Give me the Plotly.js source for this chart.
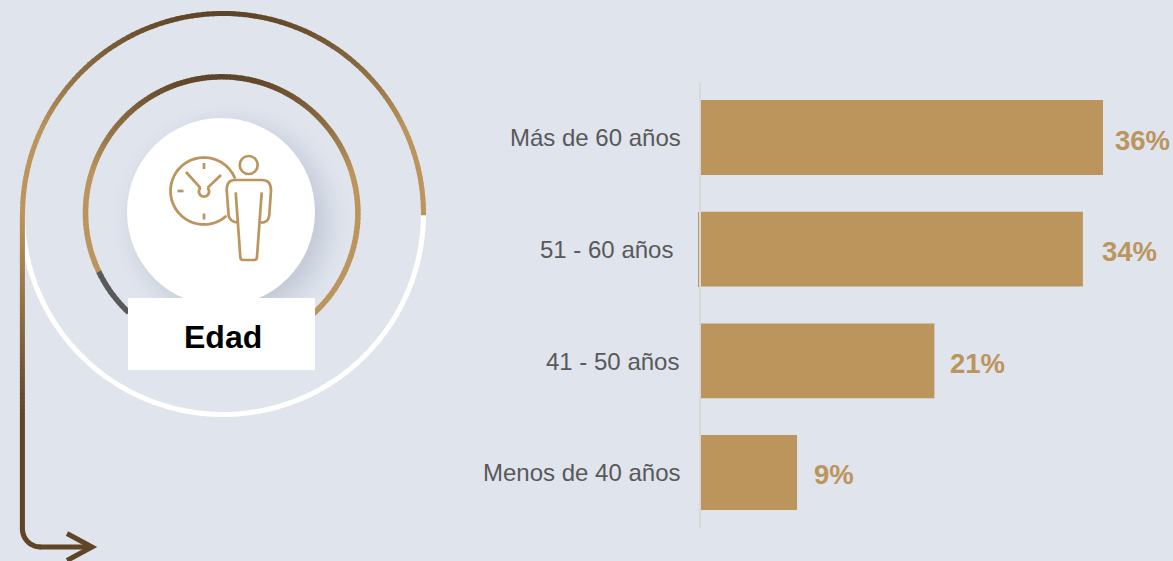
<!DOCTYPE html>
<html>
<head>
<meta charset="utf-8">
<script src="https://cdn.plot.ly/plotly-3.0.1.min.js"></script>
<style>html,body{margin:0;padding:0;background:#DFE4ED;overflow:hidden}#c{width:1173px;height:561px}</style>
</head>
<body>
<div id="c"></div>
<script>
// --- data ---
const categories = ['Más de 60 años', '51 - 60 años', '41 - 50 años', 'Menos de 40 años'];
const barValues = [36, 34.2, 20.9, 8.6];
const valueLabels = ['36%', '34%', '21%', '9%'];
const centreLabel = 'Edad';

// --- styling ---
const W = 1173, H = 561;
const GOLD = '#BC955C', DARK = '#5F4528', GREY = '#595959', BG = '#DFE4ED';
const labelRightEdge = [683, 675, 681, 682];
const labelShiftY = [0, 0, 1, 0];
const valueShift = [10, 17, 14, 15];
const valueShiftY = [-3, -2, -3, -2];

const px = x => x / W, py = y => 1 - y / H;
const blend = (a, b, t) => {
  t = Math.max(0, Math.min(1, t));
  return 'rgb(' + a.map((v, i) => Math.round(v + (b[i] - v) * t)).join(',') + ')';
};
const mix = t => blend([0x5F, 0x45, 0x28], [0xBC, 0x95, 0x5C], t);
const shapes = [];
const seg = (x0, y0, x1, y1, color, width) => shapes.push({
  type: 'line', xref: 'paper', yref: 'paper', layer: 'above',
  x0: px(x0), y0: py(y0), x1: px(x1), y1: py(y1),
  line: { color, width }
});
const arc = (cx, cy, r, a0, a1, colorFn, width, step) => {
  const n = Math.ceil(Math.abs(a1 - a0) / (step || 2));
  const da = (a1 - a0) / n, rad = Math.PI / 180;
  for (let i = 0; i < n; i++) {
    const s = (a0 + da * i) * rad, e = (a0 + da * (i + 1.25)) * rad;
    const x0 = cx + r * Math.cos(s), y0 = cy + r * Math.sin(s);
    const x1 = cx + r * Math.cos(e), y1 = cy + r * Math.sin(e);
    seg(x0, y0, x1, y1, colorFn((y0 + y1) / 2), width);
  }
};
const circle = (cx, cy, r, opts) => shapes.push(Object.assign({
  type: 'circle', xref: 'paper', yref: 'paper', layer: 'above',
  x0: px(cx - r), x1: px(cx + r), y0: py(cy + r), y1: py(cy - r)
}, opts));
const path = (cmds, color, width) => shapes.push({
  type: 'path', xref: 'paper', yref: 'paper', layer: 'above',
  path: cmds.map(c => c[0] + c.slice(1).map((v, i) => i % 2 ? py(v) : px(v)).join(',')).join(' '),
  line: { color, width }
});

// soft shadow behind the white disc, as opaque nested circles
for (let r = 120; r >= 84; r -= 1.5) {
  const t = Math.pow((120 - r) / 35, 1.5);
  circle(231, 221, r, { fillcolor: blend([223, 228, 237], [198, 205, 217], t), line: { width: 0 } });
}

// white lower arc of the outer ring
arc(223, 214, 200.5, 0, 180, () => '#FFFFFF', 5, 2);
// outer ring, upper half
arc(223, 214, 200.5, 180, 360, y => mix((y - 14) / 115), 5, 1.5);
// vertical run and arrow
const vx = 22.4, vTop = 213, vBot = 529, hy = 547;
for (let y = vTop; y < vBot; y += 4) {
  seg(vx, y, vx, y + 5, mix(1 - (y - vTop) / 200), 5);
}
arc(vx + 18, vBot, 18, 180, 90, () => DARK, 5, 8);
seg(vx + 17, hy, 92, hy, DARK, 5);
path([['M', 67, 533.5], ['L', 92, 547], ['L', 67, 560.5]], DARK, 5);

// inner ring
arc(221.7, 213, 136.2, 154, 360, y => mix((y - 77) / 95), 5.5, 1.5);
arc(221.7, 213, 136.2, 0, 50, () => GOLD, 5.5, 2);
arc(221.7, 213, 136.2, 133, 154, () => GREY, 5.5, 2);

// white disc
circle(221, 212, 94, { fillcolor: '#FFFFFF', line: { width: 0 } });
// label box
shapes.push({
  type: 'rect', xref: 'paper', yref: 'paper', layer: 'above',
  x0: px(128), x1: px(315), y0: py(370), y1: py(298),
  fillcolor: '#FFFFFF', line: { width: 0 }
});

// clock and person icon
const iconW = 2.7;
arc(204, 191, 33.5, -21.7, -311, () => GOLD, iconW, 5);
arc(204, 191.5, 5.2, -45, 225, () => GOLD, iconW, 20);
seg(186, 172, 200.4, 187.8, GOLD, iconW);
seg(221, 175, 207.6, 187.8, GOLD, iconW);
seg(204, 163, 204, 169, GOLD, iconW);
seg(177.5, 191, 183.5, 191, GOLD, iconW);
seg(204, 213.5, 204, 219.5, GOLD, iconW);
circle(248.7, 165, 9, { line: { color: GOLD, width: iconW } });
path([['M', 238.3, 222.7], ['Q', 229, 221.5, 228.6, 215], ['L', 226.7, 190],
      ['Q', 226.7, 180, 235, 180], ['L', 261.7, 180], ['Q', 271, 180, 271, 190],
      ['L', 269.3, 215], ['Q', 268.7, 222.7, 260.7, 222.7]], GOLD, iconW);
path([['M', 235.7, 192.3], ['L', 240.3, 256.7], ['Q', 240.3, 260, 243.3, 260],
      ['L', 254, 260], ['Q', 257, 260, 257, 256.7], ['L', 261.7, 192.3]], GOLD, iconW);

// thin sliver beside the second bar
seg(698.5, 212, 698.5, 287, GOLD, 1);

const annotations = [];
categories.forEach((c, i) => {
  annotations.push({
    xref: 'paper', yref: 'y', x: px(labelRightEdge[i]), y: c, yshift: -labelShiftY[i],
    xanchor: 'right', yanchor: 'middle', text: c, showarrow: false,
    font: { family: 'Liberation Sans, Arial, sans-serif', size: 24, color: GREY }
  });
  annotations.push({
    xref: 'x', yref: 'y', x: barValues[i], y: c, xshift: valueShift[i], yshift: valueShiftY[i],
    xanchor: 'left', yanchor: 'middle', text: '<b>' + valueLabels[i] + '</b>', showarrow: false,
    font: { family: 'Liberation Sans, Arial, sans-serif', size: 27.5, color: GOLD }
  });
});
annotations.push({
  xref: 'paper', yref: 'paper', x: px(222.5), y: py(337),
  xanchor: 'center', yanchor: 'middle', text: '<b>' + centreLabel + '</b>', showarrow: false,
  font: { family: 'Liberation Sans, Arial, sans-serif', size: 32, color: '#000000' }
});

Plotly.newPlot('c', [{
  type: 'bar', orientation: 'h', y: categories, x: barValues,
  marker: { color: GOLD, line: { width: 0 } },
  hoverinfo: 'skip', showlegend: false
}], {
  width: W, height: H,
  margin: { l: 0, r: 0, t: 0, b: 0, pad: 0 },
  paper_bgcolor: BG, plot_bgcolor: 'rgba(0,0,0,0)',
  bargap: 0.33,
  showlegend: false,
  xaxis: { domain: [701 / W, 1], range: [0, 42.27], visible: false, fixedrange: true },
  yaxis: {
    domain: [1 - 528.3 / H, 1 - 81.7 / H], type: 'category',
    categoryorder: 'array', categoryarray: categories, range: [3.5, -0.5],
    showticklabels: false, ticks: '', showgrid: false, zeroline: false,
    showline: true, linecolor: '#D9D9D9', linewidth: 2, fixedrange: true
  },
  shapes, annotations
}, { displayModeBar: false, staticPlot: true });
</script>
</body>
</html>
